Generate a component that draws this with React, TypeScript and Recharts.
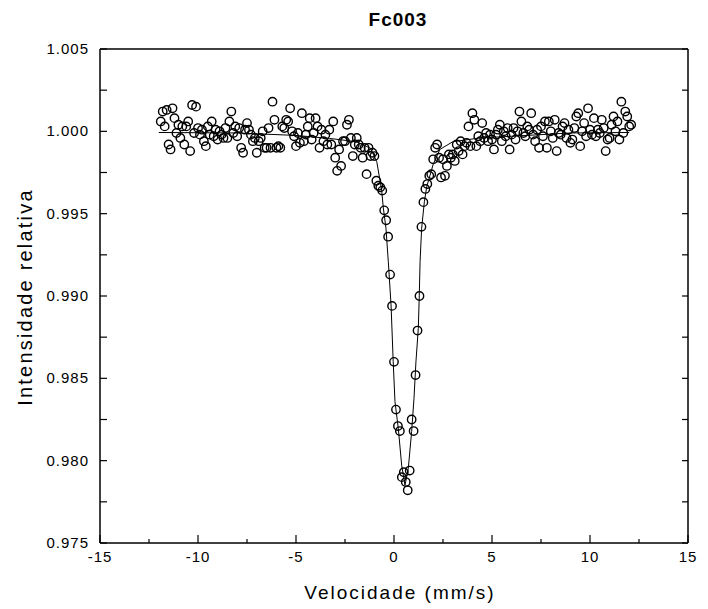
import React from 'react';
import { ScatterChart, Scatter, XAxis, YAxis } from 'recharts';

// measured spectrum (velocity in mm/s, relative transmission)
const velocity = [
  -11.9, -11.8, -11.7, -11.6, -11.5, -11.4, -11.3, -11.2, -11.1, -11.0,
  -10.9, -10.8, -10.7, -10.6, -10.5, -10.4, -10.3, -10.2, -10.1, -10.0,
  -9.9, -9.8, -9.7, -9.6, -9.5, -9.4, -9.3, -9.2, -9.1, -9.0,
  -8.9, -8.8, -8.7, -8.6, -8.5, -8.4, -8.3, -8.2, -8.1, -8.0,
  -7.9, -7.8, -7.7, -7.6, -7.5, -7.4, -7.3, -7.2, -7.1, -7.0,
  -6.9, -6.8, -6.7, -6.6, -6.5, -6.4, -6.3, -6.2, -6.1, -6.0,
  -5.9, -5.8, -5.7, -5.6, -5.5, -5.4, -5.3, -5.2, -5.1, -5.0,
  -4.9, -4.8, -4.7, -4.6, -4.5, -4.4, -4.3, -4.2, -4.1, -4.0,
  -3.9, -3.8, -3.7, -3.6, -3.5, -3.4, -3.3, -3.2, -3.1, -3.0,
  -2.9, -2.8, -2.7, -2.6, -2.5, -2.4, -2.3, -2.2, -2.1, -2.0,
  -1.9, -1.8, -1.7, -1.6, -1.5, -1.4, -1.3, -1.2, -1.1, -1.0,
  -0.9, -0.8, -0.7, -0.6, -0.5, -0.4, -0.3, -0.2, -0.1, 0.0,
  0.1, 0.2, 0.3, 0.4, 0.5, 0.6, 0.7, 0.8, 0.9, 1.0,
  1.1, 1.2, 1.3, 1.4, 1.5, 1.6, 1.7, 1.8, 1.9, 2.0,
  2.1, 2.2, 2.3, 2.4, 2.5, 2.6, 2.7, 2.8, 2.9, 3.0,
  3.1, 3.2, 3.3, 3.4, 3.5, 3.6, 3.7, 3.8, 3.9, 4.0,
  4.1, 4.2, 4.3, 4.4, 4.5, 4.6, 4.7, 4.8, 4.9, 5.0,
  5.1, 5.2, 5.3, 5.4, 5.5, 5.6, 5.7, 5.8, 5.9, 6.0,
  6.1, 6.2, 6.3, 6.4, 6.5, 6.6, 6.7, 6.8, 6.9, 7.0,
  7.1, 7.2, 7.3, 7.4, 7.5, 7.6, 7.7, 7.8, 7.9, 8.0,
  8.1, 8.2, 8.3, 8.4, 8.5, 8.6, 8.7, 8.8, 8.9, 9.0,
  9.1, 9.2, 9.3, 9.4, 9.5, 9.6, 9.7, 9.8, 9.9, 10.0,
  10.1, 10.2, 10.3, 10.4, 10.5, 10.6, 10.7, 10.8, 10.9, 11.0,
  11.1, 11.2, 11.3, 11.4, 11.5, 11.6, 11.7, 11.8, 11.9, 12.0,
  12.1,
];

const intensity = [
  1.0006, 1.0012, 1.0003, 1.0013, 0.9992, 0.9989, 1.0014, 1.0008, 0.9999, 1.0004,
  0.9996, 1.0003, 0.9992, 1.0003, 1.0006, 0.9988, 1.0016, 0.9999, 1.0015, 1.0002,
  0.9998, 1.0001, 0.9994, 0.9991, 1.0003, 0.9998, 1.0006, 0.9997, 1.0001, 0.9995,
  1.0000, 0.9998, 0.9996, 1.0002, 0.9996, 1.0006, 1.0012, 0.9999, 1.0003, 0.9997,
  1.0002, 0.9990, 0.9987, 1.0001, 1.0005, 1.0001, 0.9998, 0.9994, 0.9996, 0.9987,
  0.9994, 0.9996, 1.0000, 0.9990, 0.9990, 1.0002, 0.9990, 1.0018, 1.0007, 0.9990,
  0.9991, 0.9990, 1.0003, 1.0002, 1.0007, 1.0006, 1.0014, 1.0000, 0.9997, 0.9991,
  0.9999, 0.9993, 1.0011, 0.9994, 0.9998, 1.0003, 1.0008, 0.9995, 0.9999, 1.0008,
  1.0003, 0.9990, 1.0001, 0.9994, 0.9998, 0.9992, 1.0001, 0.9992, 1.0006, 0.9984,
  0.9976, 0.9989, 0.9979, 0.9994, 0.9994, 1.0004, 1.0007, 0.9996, 0.9985, 0.9992,
  0.9996, 0.9992, 0.9990, 0.9984, 0.9990, 0.9974, 0.9990, 0.9985, 0.9987, 0.9985,
  0.9970, 0.9967, 0.9966, 0.9964, 0.9952, 0.9946, 0.9936, 0.9913, 0.9894, 0.9860,
  0.9831, 0.9821, 0.9818, 0.9790, 0.9793, 0.9787, 0.9782, 0.9794, 0.9825, 0.9818,
  0.9852, 0.9879, 0.9900, 0.9942, 0.9957, 0.9965, 0.9968, 0.9973, 0.9974, 0.9983,
  0.9990, 0.9992, 0.9984, 0.9972, 0.9983, 0.9973, 0.9979, 0.9986, 0.9984, 0.9986,
  0.9982, 0.9992, 0.9988, 0.9994, 0.9986, 0.9991, 0.9993, 1.0003, 0.9991, 1.0011,
  1.0007, 0.9991, 0.9997, 0.9994, 1.0005, 0.9996, 0.9999, 0.9994, 0.9998, 0.9995,
  0.9989, 0.9998, 1.0001, 1.0004, 0.9994, 1.0000, 0.9997, 1.0002, 0.9989, 0.9998,
  1.0002, 0.9995, 1.0000, 1.0012, 1.0006, 0.9999, 0.9997, 1.0003, 1.0001, 1.0011,
  0.9998, 0.9994, 1.0001, 0.9990, 1.0003, 0.9997, 1.0006, 0.9990, 1.0006, 1.0000,
  0.9996, 1.0007, 0.9988, 0.9999, 0.9998, 1.0003, 1.0005, 0.9996, 1.0001, 0.9993,
  0.9995, 1.0002, 1.0009, 1.0011, 0.9991, 1.0000, 1.0005, 0.9997, 1.0014, 1.0001,
  0.9998, 1.0008, 0.9997, 1.0001, 0.9999, 1.0007, 1.0002, 0.9988, 0.9995, 0.9996,
  1.0004, 1.0009, 1.0000, 1.0006, 0.9995, 1.0018, 0.9999, 1.0012, 1.0009, 1.0003,
  1.0004,
];

// fitted curve
const fitVelocity = [
  -12, -8, -5, -3.3, -1.9, -1.2, -0.88, -0.63, -0.55, -0.41, -0.29, -0.15, -0.04,
  0.05, 0.22, 0.39, 0.56, 0.73, 0.9, 1.02, 1.12, 1.24, 1.29, 1.33, 1.41, 1.55, 1.67,
  1.84, 2.0, 2.34, 3.0, 4.4, 6, 9, 12,
];
const fitIntensity = [
  0.99993, 0.9999, 0.99975, 0.99957, 0.99937, 0.99897, 0.99816, 0.99643, 0.9954,
  0.99411, 0.99208, 0.98945, 0.98601, 0.98358, 0.98196, 0.97973, 0.97851, 0.97953,
  0.98176, 0.98378, 0.98601, 0.98803, 0.99005, 0.99208, 0.99411, 0.99573, 0.99664,
  0.99734, 0.998, 0.9989, 0.99937, 0.9996, 0.9997, 0.9999, 0.99993,
];

const xTicks = [-15, -12.5, -10, -7.5, -5, -2.5, 0, 2.5, 5, 7.5, 10, 12.5, 15];
const yTicks = [0.975, 0.9775, 0.98, 0.9825, 0.985, 0.9875, 0.99, 0.9925, 0.995, 0.9975, 1.0, 1.0025, 1.005];

const points = velocity.map((v, i) => ({ x: v, y: intensity[i] }));
const fit = fitVelocity.map((v, i) => ({ x: v, y: fitIntensity[i] }));

const FONT = '"Liberation Sans", Arial, sans-serif';

const isMajorX = (v: number) => Math.abs(v / 5 - Math.round(v / 5)) < 1e-6;
const isMajorY = (v: number) => Math.abs(v * 200 - Math.round(v * 200)) < 1e-6;

// plot box edges in px
const LEFT = 100;
const RIGHT = 688;
const TOP = 49;
const BOTTOM = 543;

const BottomTick = (props: any) => {
  const { x, payload } = props;
  const major = isMajorX(payload.value);
  return (
    <g>
      <line x1={x} x2={x} y1={BOTTOM} y2={BOTTOM - (major ? 8 : 4)} stroke="#000" strokeWidth={1.2} />
      {major && (
        <text x={x} y={BOTTOM + 19} textAnchor="middle" fontFamily={FONT} fontSize={15} letterSpacing={1} fill="#000">
          {payload.value}
        </text>
      )}
    </g>
  );
};

const TopTick = (props: any) => {
  const { x, payload } = props;
  const major = isMajorX(payload.value);
  return <line x1={x} x2={x} y1={TOP} y2={TOP + (major ? 8 : 4)} stroke="#000" strokeWidth={1.2} />;
};

const LeftTick = (props: any) => {
  const { y, payload } = props;
  const major = isMajorY(payload.value);
  return (
    <g>
      <line x1={LEFT} x2={LEFT + 7} y1={y} y2={y} stroke="#000" strokeWidth={1.2} />
      {major && (
        <text x={LEFT - 11} y={y + 5} textAnchor="end" fontFamily={FONT} fontSize={15} letterSpacing={1} fill="#000">
          {payload.value.toFixed(3)}
        </text>
      )}
    </g>
  );
};

const RightTick = (props: any) => {
  const { y } = props;
  return <line x1={RIGHT} x2={RIGHT - 6} y1={y} y2={y} stroke="#000" strokeWidth={1.2} />;
};

const Circle = (p: any) => (
  <circle cx={p.cx} cy={p.cy} r={4.2} fill="none" stroke="#000" strokeWidth={1.4} />
);

const App = () => {
  return (
    <div style={{ position: 'absolute', left: 0, top: 0, width: 708, height: 609, background: '#fff' }}>
      <div style={{ position: 'absolute', left: 0, width: 796, top: 9, textAlign: 'center', fontFamily: FONT, fontWeight: 'bold', fontSize: 19, letterSpacing: 1 }}>
        Fc003
      </div>
      <ScatterChart width={708} height={609} margin={{ top: TOP - 1, right: 708 - RIGHT - 1, bottom: 609 - BOTTOM - 1, left: LEFT - 1 }}>
        <XAxis
          dataKey="x"
          type="number"
          domain={[-15, 15]}
          ticks={xTicks}
          interval={0}
          height={1}
          tickSize={0}
          tickLine={false}
          tick={<BottomTick />}
          axisLine={{ stroke: '#000', strokeWidth: 1.5 }}
          allowDataOverflow
        />
        <XAxis
          xAxisId="top"
          orientation="top"
          type="number"
          domain={[-15, 15]}
          ticks={xTicks}
          interval={0}
          height={1}
          tickSize={0}
          tickLine={false}
          tick={<TopTick />}
          axisLine={{ stroke: '#000', strokeWidth: 1.5 }}
          allowDataOverflow
        />
        <YAxis
          dataKey="y"
          type="number"
          domain={[0.975, 1.005]}
          ticks={yTicks}
          interval={0}
          width={1}
          tickSize={0}
          tickLine={false}
          tick={<LeftTick />}
          axisLine={{ stroke: '#000', strokeWidth: 1.5 }}
          allowDataOverflow
        />
        <YAxis
          yAxisId="right"
          orientation="right"
          type="number"
          domain={[0.975, 1.005]}
          ticks={yTicks}
          interval={0}
          width={1}
          tickSize={0}
          tickLine={false}
          tick={<RightTick />}
          axisLine={{ stroke: '#000', strokeWidth: 1.5 }}
          allowDataOverflow
        />
        <Scatter data={points} shape={Circle} isAnimationActive={false} />
        <Scatter
          data={fit}
          line={{ stroke: '#000', strokeWidth: 1 }}
          lineType="joint"
          shape={() => <g />}
          isAnimationActive={false}
        />
      </ScatterChart>
      <div style={{ position: 'absolute', left: 0, width: 800, top: 582, textAlign: 'center', fontFamily: FONT, fontSize: 19, letterSpacing: 2 }}>
        Velocidade (mm/s)
      </div>
      <div
        style={{
          position: 'absolute',
          left: 25,
          top: 297,
          transform: 'translate(-50%, -50%) rotate(-90deg)',
          whiteSpace: 'nowrap',
          fontFamily: FONT,
          fontSize: 20,
          letterSpacing: 2.2,
        }}
      >
        Intensidade relativa
      </div>
    </div>
  );
};

export default App;
